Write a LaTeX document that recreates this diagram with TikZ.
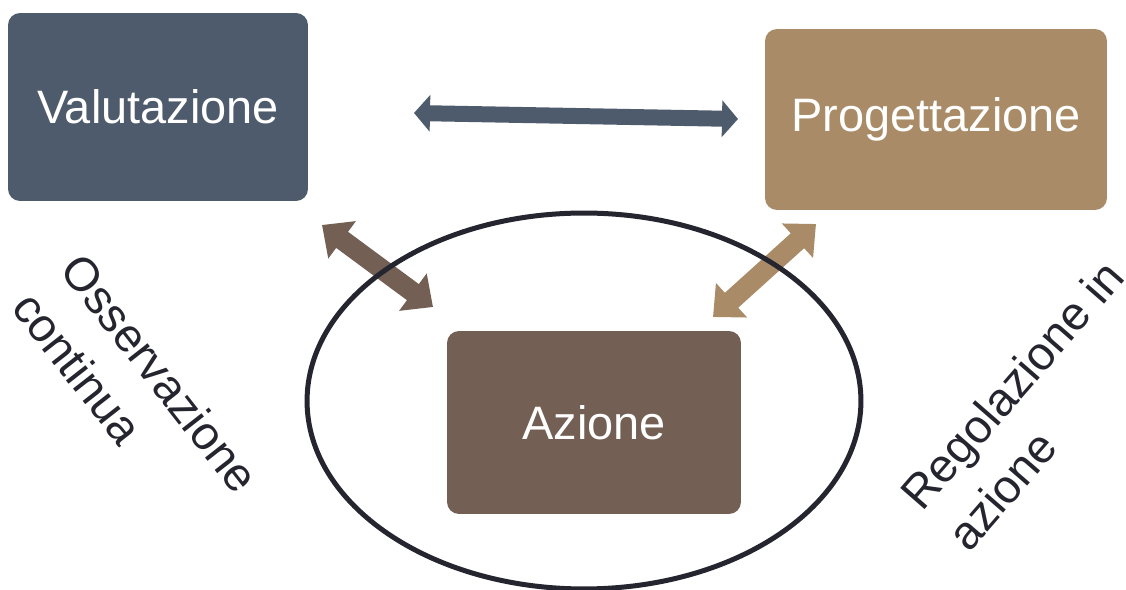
\documentclass[tikz,border=0pt]{standalone}
\usepackage{fontspec}
\setmainfont{Liberation Sans}
\usetikzlibrary{arrows.meta,shapes.geometric}
\definecolor{slate}{HTML}{4E5B6C}
\definecolor{tan}{HTML}{A98C67}
\definecolor{bark}{HTML}{735F53}
\definecolor{ink}{HTML}{25252F}
\begin{document}
\begin{tikzpicture}[x=0.02cm,y=-0.02cm,every node/.style={align=center,inner sep=0pt},
	box/.style={rounded corners=0.24cm,text=white,font=\fontsize{26.7}{32}\selectfont},
	tag/.style={align=left,text=ink,font=\fontsize{26.7}{35}\selectfont},
	link/.style={line width=#1}]
	\useasboundingbox (0,0) rectangle (1126,590);
	\node [box,fill=slate,minimum width=6cm,minimum height=3.76cm] (val) at (158,107) {Valutazione};
	\node [box,fill=tan,minimum width=6.84cm,minimum height=3.62cm] (prog) at (936,119.5) {Progettazione};
	\node [box,fill=bark,minimum width=5.88cm,minimum height=3.66cm] (azi) at (594,422.5) {Azione};
	% free ends of the arrows
	\coordinate (h1) at (414,113); \coordinate (h2) at (738,119);
	\coordinate (l1) at (322,225); \coordinate (l2) at (433,307);
	\coordinate (r1) at (816,224); \coordinate (r2) at (713,317);
	\draw [slate,link=0.32cm,{Triangle[length=0.32cm,width=0.72cm]}-{Triangle[length=0.32cm,width=0.72cm]}] (h1) -- (h2);
	\draw [bark,link=0.4cm,{Triangle[length=0.5cm,width=0.9cm]}-{Triangle[length=0.5cm,width=0.9cm]}] (l1) -- (l2);
	\draw [tan,link=0.4cm,{Triangle[length=0.5cm,width=0.9cm]}-{Triangle[length=0.5cm,width=0.9cm]}] (r1) -- (r2);
	\node [ellipse,draw=ink,line width=0.1cm,minimum width=11.08cm,minimum height=7.52cm] (ring) at (584,401) {};
	\node [tag,rotate=-52] (oss) at (136,392) {Osservazione\\continua}; % left label
	\node [tag,rotate=49] (reg) at (1035,405) {Regolazione in\\azione}; % right label
\end{tikzpicture}
\end{document}
